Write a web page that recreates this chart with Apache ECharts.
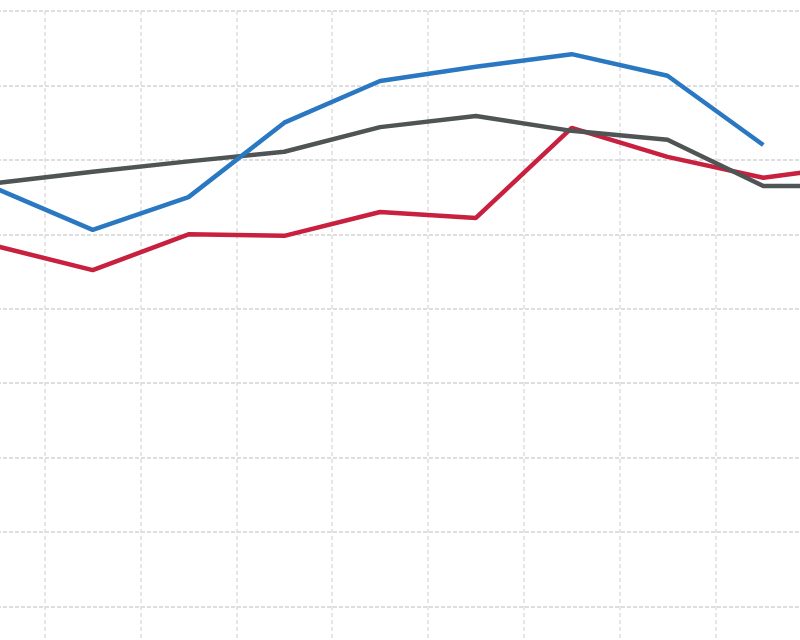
<!DOCTYPE html>
<html>
<head>
<meta charset="utf-8">
<script src="https://cdn.jsdelivr.net/npm/echarts@6/dist/echarts.min.js"></script>
<style>html,body{margin:0;padding:0;background:#fff;overflow:hidden;width:800px;height:640px;}#c{position:absolute;left:-51px;top:0;width:958px;height:681px;}</style>
</head>
<body>
<div id="c"></div>
<script>
var categories = ['1','2','3','4','5','6','7','8','9','10'];
var blueValues = [66.1, 60.6, 65.0, 75.0, 80.6, 82.5, 84.2, 81.3, 72.0, null];
var redValues = [58.4, 55.2, 60.0, 59.8, 63.0, 62.2, 74.3, 70.4, 67.6, 69.3];
var grayValues = [66.9, 68.4, 69.8, 71.1, 74.4, 75.9, 73.9, 72.7, 66.5, 66.5];

var chart = echarts.init(document.getElementById('c'), null, {renderer: 'canvas'});
chart.setOption({
  animation: false,
  backgroundColor: '#ffffff',
  grid: {left: 0, right: 0, top: 11, bottom: 0, containLabel: false},
  xAxis: {
    type: 'category',
    data: categories,
    boundaryGap: true,
    axisLine: {show: false},
    axisTick: {show: false},
    axisLabel: {show: false},
    splitLine: {show: true, interval: 0, lineStyle: {color: '#dedede', width: 1.5, type: [4, 3]}}
  },
  yAxis: {
    type: 'value',
    min: 0, max: 90, interval: 10,
    axisLine: {show: false},
    axisTick: {show: false},
    axisLabel: {show: false},
    splitLine: {show: true, lineStyle: {color: '#d4d4d4', width: 1.5, type: [4, 2]}}
  },
  series: [
    {type: 'line', data: redValues, symbol: 'none', lineStyle: {color: '#c8203f', width: 4.5}, z: 2},
    {type: 'line', data: grayValues, symbol: 'none', lineStyle: {color: '#4f5454', width: 4.5}, z: 3},
    {type: 'line', data: blueValues, symbol: 'none', lineStyle: {color: '#2a78c2', width: 4.5}, z: 4}
  ]
});
</script>
</body>
</html>
